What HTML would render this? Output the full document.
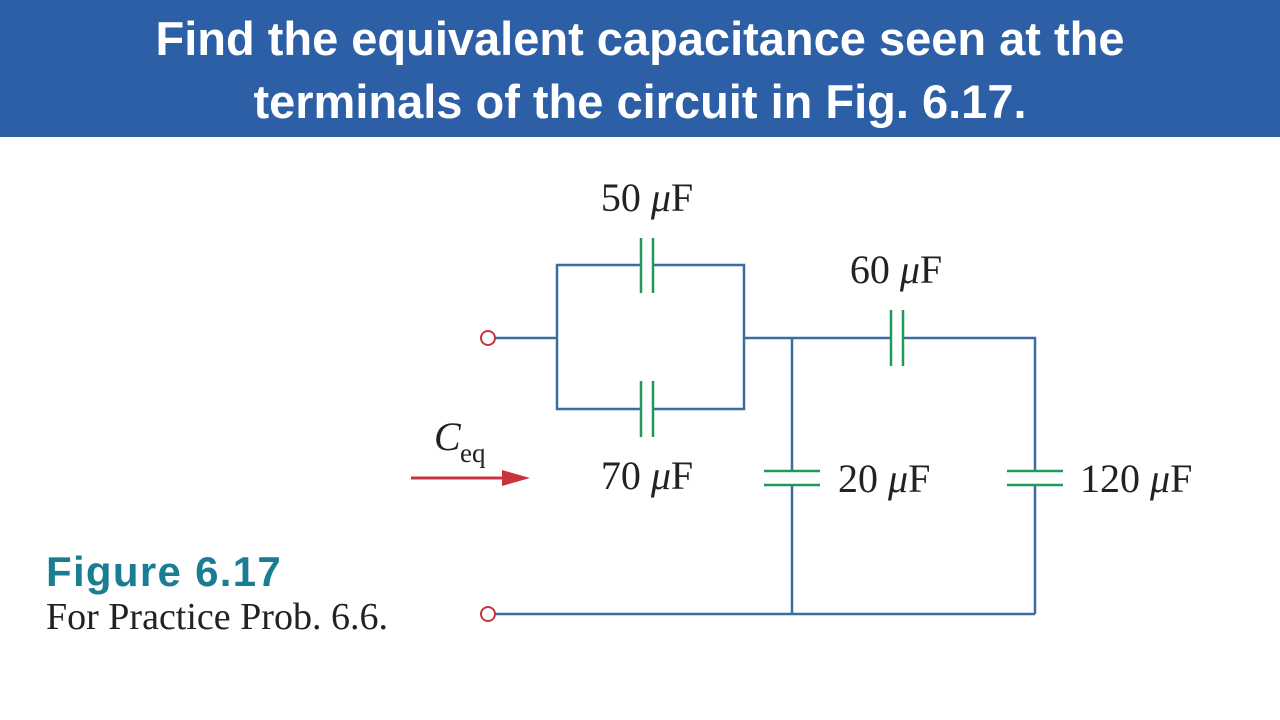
<!DOCTYPE html>
<html><head><meta charset="utf-8"><style>
body{margin:0;width:1280px;height:720px;background:#fff;overflow:hidden;position:relative;font-family:"Liberation Sans",sans-serif}
.hdr{position:absolute;left:0;top:0;width:1280px;height:137px;background:#2c5fa6;color:#fff;font-weight:bold;font-size:47px;text-align:center;line-height:63px;padding-top:7px;box-sizing:border-box}
</style></head><body>
<div class="hdr">Find the equivalent capacitance seen at the<br>terminals of the circuit in Fig. 6.17.</div>
<svg width="1280" height="720" style="position:absolute;left:0;top:0">
<g stroke="#3a6ea0" stroke-width="2.5" fill="none">
<line x1="494" y1="338" x2="557" y2="338"/>
<polyline points="641,265 557,265 557,409 641,409"/>
<polyline points="653,265 744,265 744,409 653,409"/>
<line x1="744" y1="338" x2="891" y2="338"/>
<polyline points="903,338 1035,338 1035,471"/>
<line x1="1035" y1="485" x2="1035" y2="614"/>
<line x1="792" y1="338" x2="792" y2="471"/>
<line x1="792" y1="485" x2="792" y2="614"/>
<line x1="494" y1="614" x2="1035" y2="614"/>
</g>
<g stroke="#1f9a5a" stroke-width="2.5">
<line x1="641" y1="238" x2="641" y2="293"/><line x1="653" y1="238" x2="653" y2="293"/>
<line x1="641" y1="381" x2="641" y2="437"/><line x1="653" y1="381" x2="653" y2="437"/>
<line x1="891" y1="310" x2="891" y2="366"/><line x1="903" y1="310" x2="903" y2="366"/>
<line x1="764" y1="471" x2="820" y2="471"/><line x1="764" y1="485" x2="820" y2="485"/>
<line x1="1007" y1="471" x2="1063" y2="471"/><line x1="1007" y1="485" x2="1063" y2="485"/>
</g>
<g stroke="#c8343c" stroke-width="2" fill="#fff">
<circle cx="488" cy="338" r="7"/><circle cx="488" cy="614" r="7"/>
</g>
<line x1="411" y1="478" x2="505" y2="478" stroke="#c8343c" stroke-width="3"/>
<polygon points="502,470 530,478 502,486" fill="#c8343c"/>
<g font-family="Liberation Serif,serif" font-size="40" fill="#222">
<text x="647" y="211" text-anchor="middle">50 <tspan font-style="italic">μ</tspan>F</text>
<text x="896" y="283" text-anchor="middle">60 <tspan font-style="italic">μ</tspan>F</text>
<text x="647" y="489" text-anchor="middle">70 <tspan font-style="italic">μ</tspan>F</text>
<text x="838" y="492">20 <tspan font-style="italic">μ</tspan>F</text>
<text x="1080" y="492">120 <tspan font-style="italic">μ</tspan>F</text>
<text x="434" y="450" font-style="italic">C</text><text x="460" y="462" font-size="27">eq</text>
<text x="46" y="629" font-size="38">For Practice Prob. 6.6.</text>
</g>
<text x="46" y="586" font-family="Liberation Sans,sans-serif" font-weight="bold" font-size="42" letter-spacing="1.3" fill="#1a7d91">Figure 6.17</text>
</svg>
</body></html>
